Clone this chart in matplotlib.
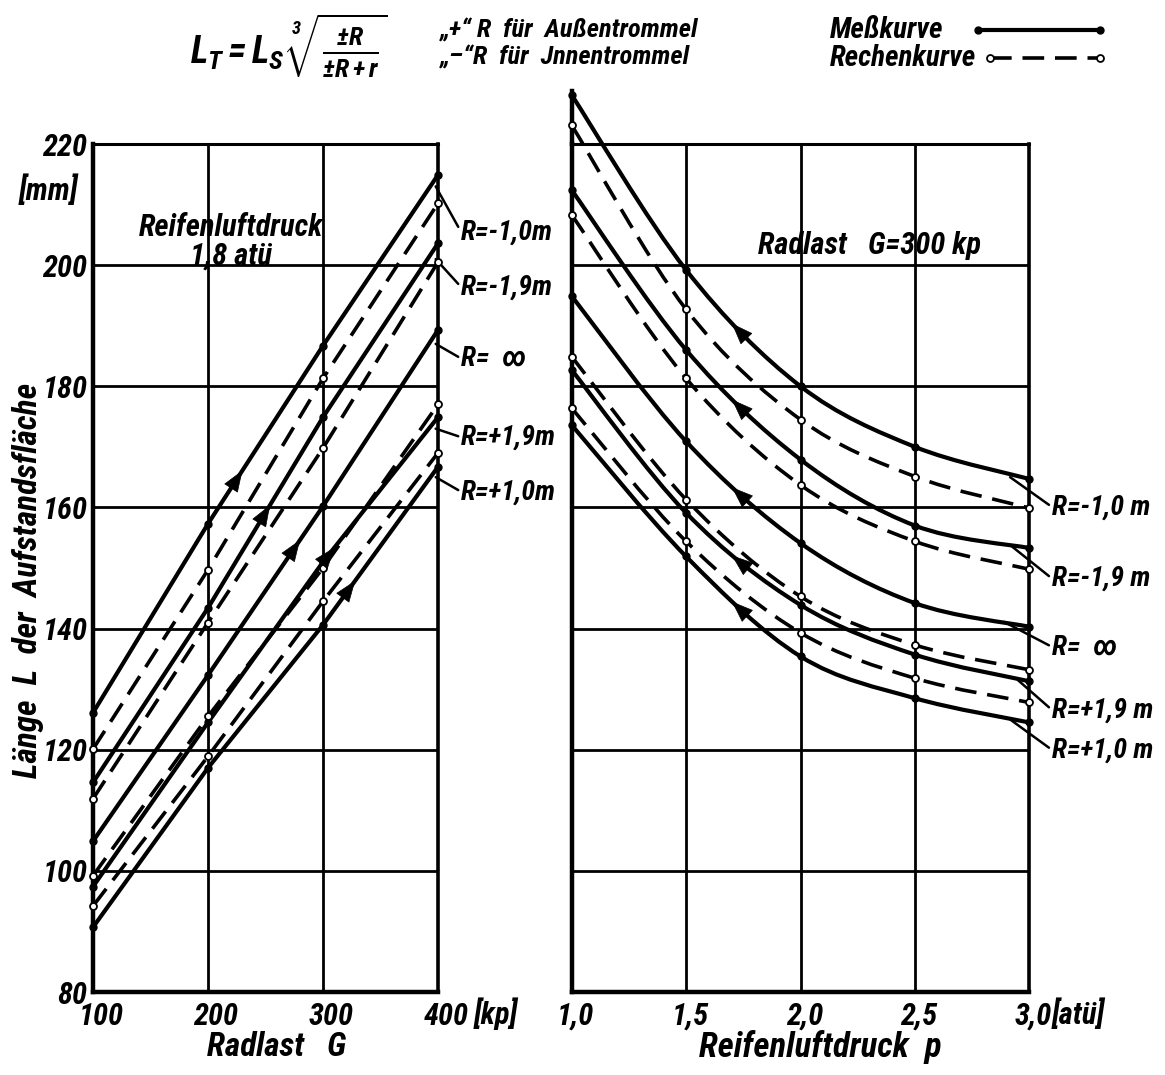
import numpy as np
import matplotlib
matplotlib.use('Agg')
from matplotlib import pyplot as plt
from matplotlib.path import Path
from matplotlib.patches import PathPatch
from matplotlib.lines import Line2D
from matplotlib.transforms import ScaledTranslation

plt.rcParams['font.family'] = ['Roboto Condensed', 'Roboto', 'DejaVu Sans']
plt.rcParams['font.weight'] = 'bold'
plt.rcParams['font.style'] = 'italic'
plt.rcParams['mathtext.fontset'] = 'custom'
plt.rcParams['mathtext.it'] = 'Roboto Condensed:italic:bold'
plt.rcParams['mathtext.rm'] = 'Roboto Condensed:bold'
plt.rcParams['mathtext.bf'] = 'Roboto Condensed:bold'

#%% Data
# left panel: length vs wheel load G [kp], tyre pressure 1.8 atü
G = [100, 200, 300, 400]
G_mess_m10 = [126.1, 157.3, 186.7, 214.9]
G_mess_m19 = [114.6, 143.4, 174.9, 203.6]
G_mess_inf = [104.9, 132.3, 160.2, 189.3]
G_mess_p19 = [97.4, 124.5, 151.0, 174.9]
G_mess_p10 = [90.7, 117.0, 140.6, 166.7]
G_rech_m10 = [120.1, 149.7, 181.3, 210.2]
G_rech_m19 = [111.9, 141.0, 169.8, 200.5]
G_rech_p19 = [99.2, 125.5, 150.0, 177.0]
G_rech_p10 = [94.2, 118.9, 144.5, 169.0]

# right panel: length vs tyre pressure p [atü], wheel load 300 kp
p = [1.0, 1.5, 2.0, 2.5, 3.0]
p_mess_m10 = [228.1, 199.2, 180.0, 170.0, 164.7]
p_mess_m19 = [212.4, 186.0, 167.9, 157.0, 153.3]
p_mess_inf = [194.9, 170.9, 154.1, 144.2, 140.3]
p_mess_p19 = [182.7, 159.1, 143.9, 135.7, 131.3]
p_mess_p10 = [173.6, 151.9, 135.4, 128.5, 124.5]
p_rech_m10 = [223.1, 192.7, 174.5, 165.1, 159.9]
p_rech_m19 = [208.3, 181.3, 163.7, 154.4, 149.8]
p_rech_p19 = [184.9, 161.3, 145.3, 137.3, 133.2]
p_rech_p10 = [176.4, 154.4, 139.3, 131.8, 127.8]

labels_R = ['R=-1,0 m', 'R=-1,9 m', 'R=  \u221e', 'R=+1,9 m', 'R=+1,0 m']
yticks = [80, 100, 120, 140, 160, 180, 200, 220]
G_ticklabels = ['100', '200', '300', '400']
p_ticklabels = ['1,0', '1,5', '2,0', '2,5', '3,0']

W, H = 1165, 1075
fx = lambda px: px / W
fy = lambda py: 1 - py / H

LW_M = 3.0
LW_R = 2.6
DASH = (0, (6, 3))


def bezier_segments(x, y):
    # Catmull-Rom -> cubic bezier control points
    pts = np.column_stack([x, y]).astype(float)
    n = len(pts)
    segs = []
    for i in range(n - 1):
        p0 = pts[i - 1] if i > 0 else pts[i]
        p3 = pts[i + 2] if i + 2 < n else pts[i + 1]
        c1 = pts[i] + (pts[i + 1] - p0) / 6
        c2 = pts[i + 1] - (p3 - pts[i]) / 6
        segs.append((pts[i], c1, c2, pts[i + 1]))
    return segs


def bez_point(seg, t):
    a, b, c, d = seg
    return (1 - t)**3 * a + 3 * (1 - t)**2 * t * b + 3 * (1 - t) * t**2 * c + t**3 * d


def smooth_curve(ax, x, y, **kw):
    segs = bezier_segments(x, y)
    verts = [tuple(segs[0][0])]
    codes = [Path.MOVETO]
    for s in segs:
        verts += [tuple(s[1]), tuple(s[2]), tuple(s[3])]
        codes += [Path.CURVE4] * 3
    ax.add_patch(PathPatch(Path(verts, codes), fill=False, clip_on=False, **kw))
    return segs


def arrow_head(ax, tip, tail):
    ax.annotate('', xy=tip, xytext=tail, annotation_clip=False,
                arrowprops=dict(arrowstyle='-|>,head_length=0.8,head_width=0.3',
                                mutation_scale=18, color='k', lw=0.5,
                                shrinkA=0, shrinkB=0), zorder=6)


def style_axes(ax, xlim, xticks):
    ax.set_xlim(*xlim)
    ax.set_ylim(80, 220)
    ax.set_xticks(xticks)
    ax.set_yticks(yticks)
    ax.grid(True, color='k', lw=2.0)
    ax.tick_params(length=0, labelsize=22, pad=4)
    ax.tick_params(axis='x', pad=7)
    for side in ['left', 'bottom']:
        ax.spines[side].set_linewidth(3.2)
    ax.spines['right'].set_linewidth(2.6)
    ax.spines['top'].set_linewidth(2.2)


fig = plt.figure(figsize=(W / 100, H / 100), dpi=100)
ax1 = fig.add_axes([fx(93), fy(992), (438 - 93) / W, (992 - 144) / H])
ax2 = fig.add_axes([fx(571.7), fy(992), (1029.3 - 571.7) / W, (992 - 144) / H])

#%% Left panel
style_axes(ax1, (100, 400), G)
ax1.set_xticklabels(G_ticklabels)
ax1.set_yticklabels([str(v) for v in yticks])
for lbl in ax1.get_xticklabels():
    lbl.set_transform(lbl.get_transform() + ScaledTranslation(0.08, 0, fig.dpi_scale_trans))

mess_G = [G_mess_m10, G_mess_m19, G_mess_inf, G_mess_p19, G_mess_p10]
rech_G = [G_rech_m10, G_rech_m19, G_rech_p19, G_rech_p10]
for yy in mess_G:
    ax1.plot(G, yy, '-', color='k', lw=LW_M, marker='o', ms=5, mfc='k', mec='k',
             zorder=4, clip_on=False)
for yy in rech_G:
    ax1.plot(G, yy, color='k', lw=LW_R, ls=DASH, marker='o', ms=5, mfc='white',
             mec='k', mew=1.3, zorder=4, clip_on=False)

# direction arrows on measured lines
arrow_x_G = [230, 254, 280, 310, 328]
for yy, xa in zip(mess_G, arrow_x_G):
    tip = (xa, np.interp(xa, G, yy))
    tail = (xa - 6, np.interp(xa - 6, G, yy))
    arrow_head(ax1, tip, tail)

# curve labels with leader lines
lab_G_y = [205.5, 196.4, 184.6, 171.6, 162.6]
lab_G_xy = [(398, 213.0), (398, 201.0), (398, 187.0), (398, 173.0), (398, 165.0)]
for txt, ty, xy in zip(labels_R, lab_G_y, lab_G_xy):
    ax1.annotate(txt.replace(' m', 'm'), xy=xy, xytext=(420, ty), fontsize=20,
                 ha='left', va='center', annotation_clip=False,
                 arrowprops=dict(arrowstyle='-', color='k', lw=1.8, shrinkA=0, shrinkB=0,
                                 relpos=(0, 0.5)))

ax1.text(0.40, 0.885, 'Reifenluftdruck\n1,8 atü', transform=ax1.transAxes,
         ha='center', va='center', fontsize=22, linespacing=1.0)

#%% Right panel
style_axes(ax2, (1.0, 3.0), p)
ax2.set_xticklabels(p_ticklabels)
ax2.set_yticklabels([])
for lbl in ax2.get_xticklabels():
    lbl.set_transform(lbl.get_transform() + ScaledTranslation(0.04, 0, fig.dpi_scale_trans))
ax2.plot([1.0, 1.0], [220, 228.8], color='k', lw=3.2, clip_on=False, zorder=3)

mess_p = [p_mess_m10, p_mess_m19, p_mess_inf, p_mess_p19, p_mess_p10]
rech_p = [p_rech_m10, p_rech_m19, p_rech_p19, p_rech_p10]
for yy in rech_p:
    smooth_curve(ax2, p, yy, color='k', lw=LW_R, ls=DASH, zorder=4)
    ax2.plot(p, yy, 'o', ms=5, mfc='white', mec='k', mew=1.3, zorder=5, clip_on=False)
mess_segs = []
for yy in mess_p:
    segs = smooth_curve(ax2, p, yy, color='k', lw=LW_M, zorder=4)
    mess_segs.append(segs)
    ax2.plot(p, yy, 'o', ms=5, mfc='k', mec='k', zorder=5, clip_on=False)

# direction arrows (pointing towards lower pressure)
for segs in mess_segs:
    tip = bez_point(segs[1], 0.40)
    tail = bez_point(segs[1], 0.46)
    arrow_head(ax2, tuple(tip), tuple(tail))

lab_p_y = [160.1, 148.3, 137.0, 126.6, 120.0]
lab_p_xy = [(2.916, 165.0), (2.916, 153.8), (2.89, 141.1), (2.95, 131.5), (2.916, 125.0)]
for txt, ty, xy in zip(labels_R, lab_p_y, lab_p_xy):
    ax2.annotate(txt, xy=xy, xytext=(3.098, ty), fontsize=20,
                 ha='left', va='center', annotation_clip=False,
                 arrowprops=dict(arrowstyle='-', color='k', lw=1.8, shrinkA=0, shrinkB=0,
                                 relpos=(0, 0.5)))

ax2.text(0.65, 0.88, 'Radlast   G=300 kp', transform=ax2.transAxes,
         ha='center', va='center', fontsize=22)

#%% Axis titles and units
fig.text(fx(48), fy(190), '[mm]', ha='center', va='center', fontsize=22)
fig.text(fx(28), fy(580), 'Länge  L  der  Aufstandsfläche', rotation=90,
         ha='center', va='center', fontsize=24)
fig.text(fx(496), fy(1014), '[kp]', ha='center', va='center', fontsize=22)
fig.text(fx(1078), fy(1014), '[atü]', ha='center', va='center', fontsize=22)
fig.text(fx(277), fy(1047), 'Radlast   G', ha='center', va='center', fontsize=24)
fig.text(fx(820), fy(1047), 'Reifenluftdruck  p', ha='center', va='center', fontsize=25)

#%% Header: formula and legend
fig.text(fx(190), fy(46), r'$L_T = L_S\;\sqrt[3]{\frac{\pm R}{\pm R + r}}$',
         ha='left', va='center', fontsize=27)
fig.text(fx(440), fy(30), '\u201e+\u201c R  für  Außentrommel', ha='left', va='center', fontsize=19)
fig.text(fx(440), fy(57), '\u201e\u2013\u201cR  für  Jnnentrommel', ha='left', va='center', fontsize=19)

fig.text(fx(830), fy(30), 'Meßkurve', ha='left', va='center', fontsize=21)
fig.text(fx(830), fy(58), 'Rechenkurve', ha='left', va='center', fontsize=21)
fig.add_artist(Line2D([fx(978), fx(1100)], [fy(30), fy(30)], color='k', lw=LW_M,
                      marker='o', ms=5, mfc='k', transform=fig.transFigure))
fig.add_artist(Line2D([fx(990), fx(1100)], [fy(58), fy(58)], color='k', lw=LW_R, ls=DASH,
                      marker='o', ms=5, mfc='white', mew=1.3, transform=fig.transFigure))

plt.savefig('out.png', dpi=100)
